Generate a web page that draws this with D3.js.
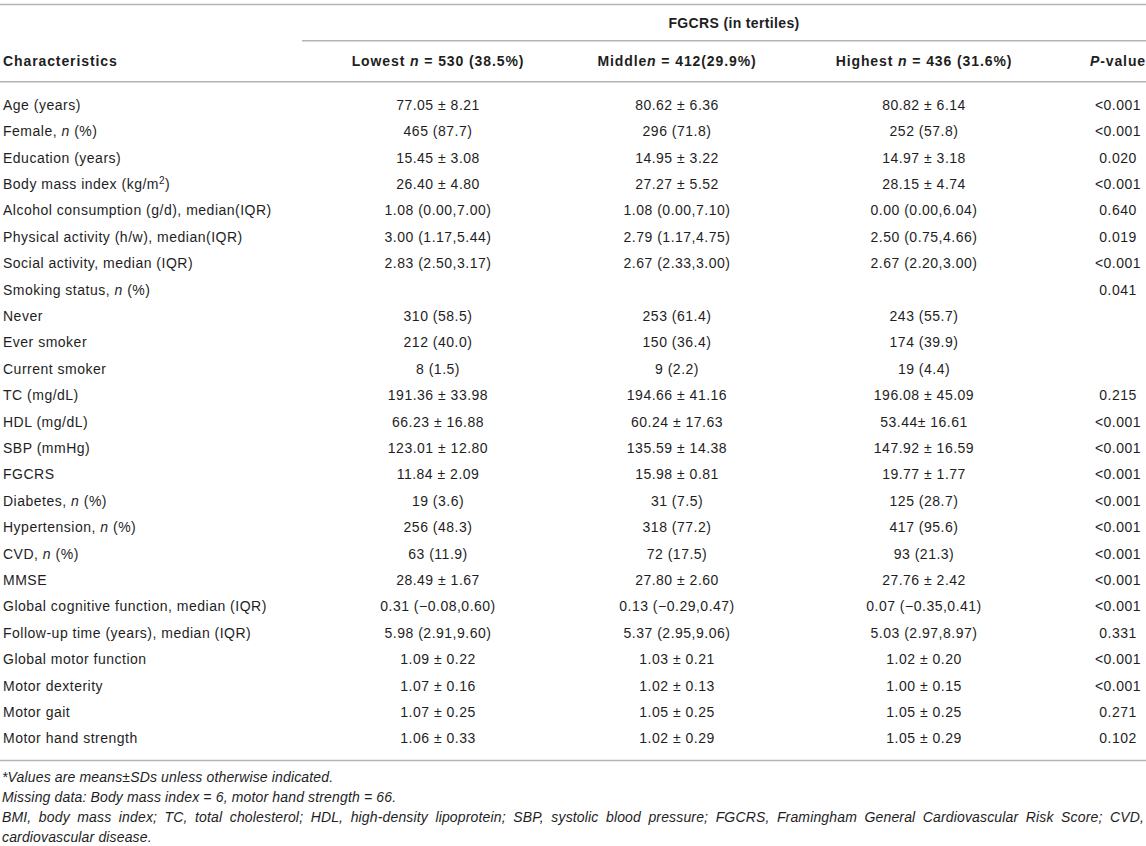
<!DOCTYPE html>
<html>
<head>
<meta charset="utf-8">
<script src="https://cdn.jsdelivr.net/npm/d3@7"></script>
<style>
  body { margin: 0; background: #fff; }
  svg { display: block; }
  text { font-family: "Liberation Sans", Arial, sans-serif; fill: #1e1e1e; }
</style>
</head>
<body>
<div id="chart"></div>
<script>
// *x* = italic, ^x^ = superscript
const characteristics = [
  "Age (years)", "Female, *n* (%)", "Education (years)", "Body mass index (kg/m^2^)",
  "Alcohol consumption (g/d), median(IQR)", "Physical activity (h/w), median(IQR)",
  "Social activity, median (IQR)", "Smoking status, *n* (%)", "Never", "Ever smoker",
  "Current smoker", "TC (mg/dL)", "HDL (mg/dL)", "SBP (mmHg)", "FGCRS",
  "Diabetes, *n* (%)", "Hypertension, *n* (%)", "CVD, *n* (%)", "MMSE",
  "Global cognitive function, median (IQR)", "Follow-up time (years), median (IQR)",
  "Global motor function", "Motor dexterity", "Motor gait", "Motor hand strength"
];
const lowest = [
  "77.05 ± 8.21", "465 (87.7)", "15.45 ± 3.08", "26.40 ± 4.80", "1.08 (0.00,7.00)",
  "3.00 (1.17,5.44)", "2.83 (2.50,3.17)", "", "310 (58.5)", "212 (40.0)", "8 (1.5)",
  "191.36 ± 33.98", "66.23 ± 16.88", "123.01 ± 12.80", "11.84 ± 2.09", "19 (3.6)",
  "256 (48.3)", "63 (11.9)", "28.49 ± 1.67", "0.31 (−0.08,0.60)", "5.98 (2.91,9.60)",
  "1.09 ± 0.22", "1.07 ± 0.16", "1.07 ± 0.25", "1.06 ± 0.33"
];
const middle = [
  "80.62 ± 6.36", "296 (71.8)", "14.95 ± 3.22", "27.27 ± 5.52", "1.08 (0.00,7.10)",
  "2.79 (1.17,4.75)", "2.67 (2.33,3.00)", "", "253 (61.4)", "150 (36.4)", "9 (2.2)",
  "194.66 ± 41.16", "60.24 ± 17.63", "135.59 ± 14.38", "15.98 ± 0.81", "31 (7.5)",
  "318 (77.2)", "72 (17.5)", "27.80 ± 2.60", "0.13 (−0.29,0.47)", "5.37 (2.95,9.06)",
  "1.03 ± 0.21", "1.02 ± 0.13", "1.05 ± 0.25", "1.02 ± 0.29"
];
const highest = [
  "80.82 ± 6.14", "252 (57.8)", "14.97 ± 3.18", "28.15 ± 4.74", "0.00 (0.00,6.04)",
  "2.50 (0.75,4.66)", "2.67 (2.20,3.00)", "", "243 (55.7)", "174 (39.9)", "19 (4.4)",
  "196.08 ± 45.09", "53.44± 16.61", "147.92 ± 16.59", "19.77 ± 1.77", "125 (28.7)",
  "417 (95.6)", "93 (21.3)", "27.76 ± 2.42", "0.07 (−0.35,0.41)", "5.03 (2.97,8.97)",
  "1.02 ± 0.20", "1.00 ± 0.15", "1.05 ± 0.25", "1.05 ± 0.29"
];
const pValues = [
  "<0.001", "<0.001", "0.020", "<0.001", "0.640", "0.019", "<0.001", "0.041", "", "", "",
  "0.215", "<0.001", "<0.001", "<0.001", "<0.001", "<0.001", "<0.001", "<0.001",
  "<0.001", "0.331", "<0.001", "<0.001", "0.271", "0.102"
];
const groupTitle = "FGCRS (in tertiles)";
const headers = ["Characteristics", "Lowest *n* = 530 (38.5%)", "Middle*n* = 412(29.9%)",
  "Highest *n* = 436 (31.6%)", "*P*-value"];
const footnotes = [
  "*Values are means±SDs unless otherwise indicated.",
  "Missing data: Body mass index = 6, motor hand strength = 66.",
  "BMI, body mass index; TC, total cholesterol; HDL, high-density lipoprotein; SBP, systolic blood pressure; FGCRS, Framingham General Cardiovascular Risk Score; CVD,",
  "cardiovascular disease."
];

const W = 1146, H = 846;
const colX = [3, 438, 677, 924, 1118];   // left edge for first column, centres for the rest
const ruleColor = "#b4b4b4";

const svg = d3.select("#chart").append("svg")
  .attr("width", W).attr("height", H);

// row positions
const y = d3.scalePoint()
  .domain(d3.range(characteristics.length))
  .range([105, 738.5]);

// write markup string into a text element as tspans
function rich(sel, str) {
  const parts = str.split(/(\*[^*]+\*|\^[^^]+\^)/).filter(s => s.length);
  parts.forEach(p => {
    if (p.startsWith("*") && p.endsWith("*") && p.length > 2) {
      sel.append("tspan").style("font-style", "italic").text(p.slice(1, -1));
    } else if (p.startsWith("^")) {
      sel.append("tspan").attr("baseline-shift", "super").style("font-size", "10px").text(p.slice(1, -1));
    } else {
      sel.append("tspan").text(p);
    }
  });
}

function rule(x1, x2, yy) {
  svg.append("line")
    .attr("x1", x1).attr("x2", x2).attr("y1", yy).attr("y2", yy)
    .attr("stroke", ruleColor).attr("stroke-width", 1.6);
}

// rules
rule(0, W, 4.5);
rule(302, W, 40.7);
rule(0, W, 81.7);
rule(0, W, 760.5);

// group title
svg.append("text")
  .attr("x", 734).attr("y", 23.3).attr("dy", "0.35em")
  .attr("text-anchor", "middle")
  .style("font-size", "14px").style("font-weight", "bold")
  .style("letter-spacing", "0.35px")
  .text(groupTitle);

// header row
svg.selectAll(".hdr")
  .data(headers)
  .join("text")
  .attr("class", "hdr")
  .attr("x", (d, i) => colX[i])
  .attr("y", 61).attr("dy", "0.35em")
  .attr("text-anchor", (d, i) => i === 0 ? "start" : "middle")
  .style("font-size", "14px").style("font-weight", "bold")
  .style("letter-spacing", "0.9px")
  .each(function (d) { rich(d3.select(this), d); });

// body
const columns = [characteristics, lowest, middle, highest, pValues];
columns.forEach((col, ci) => {
  svg.append("g").selectAll("text")
    .data(col.map((d, i) => ({ d, i })).filter(o => o.d))
    .join("text")
    .attr("x", colX[ci])
    .attr("y", o => y(o.i)).attr("dy", "0.35em")
    .attr("text-anchor", ci === 0 ? "start" : "middle")
    .style("font-size", "14px")
    .style("letter-spacing", "0.5px")
    .each(function (o) { rich(d3.select(this), o.d); });
});

// footnotes
const fy = d3.scalePoint().domain(d3.range(footnotes.length)).range([776.7, 836.7]);
footnotes.forEach((line, i) => {
  const g = svg.append("g")
    .style("font-size", "14px").style("font-style", "italic")
    .style("letter-spacing", "0.15px");
  if (i === 2) {
    // justified line: place words with even gaps across the full width
    const words = line.split(" ");
    const tmp = words.map(w => g.append("text").text(w));
    const widths = tmp.map(t => t.node().getComputedTextLength());
    const gap = (W - 4 - d3.sum(widths)) / (words.length - 1);
    let x = 2;
    tmp.forEach((t, k) => {
      t.attr("x", x).attr("y", fy(i)).attr("dy", "0.35em");
      x += widths[k] + gap;
    });
  } else {
    g.append("text")
      .attr("x", 2).attr("y", fy(i)).attr("dy", "0.35em")
      .text(line);
  }
});
</script>
</body>
</html>
